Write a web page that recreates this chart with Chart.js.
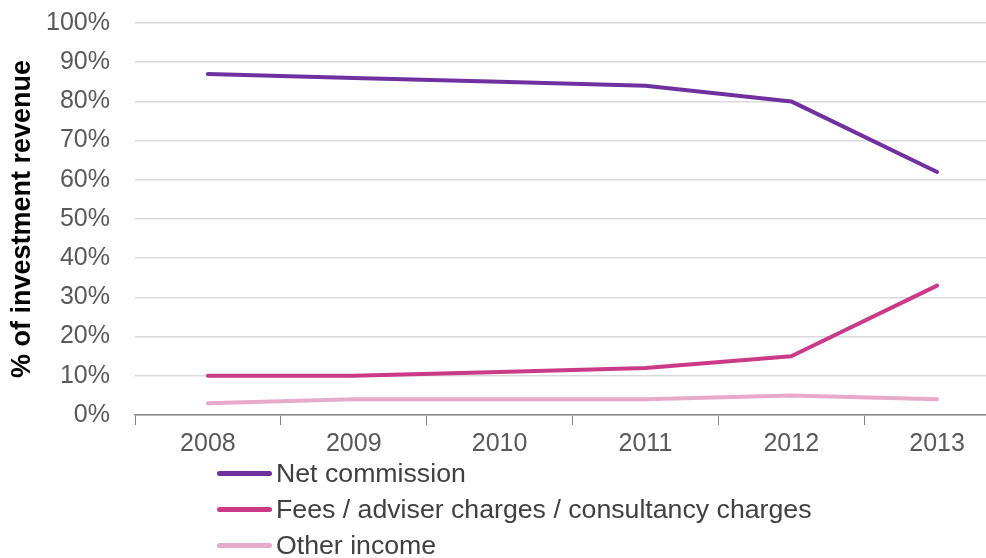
<!DOCTYPE html>
<html>
<head>
<meta charset="utf-8">
<script src="https://cdn.jsdelivr.net/npm/chart.js@4"></script>
<style>
  html, body { margin: 0; padding: 0; background: #fff; overflow: hidden; }
  #wrap { position: relative; width: 986px; height: 558px; overflow: hidden; }
  #box { position: absolute; left: 0; top: 0; width: 1010px; height: 558px; }
  #legend { position: absolute; left: 217px; top: 455px; font-family: "Liberation Sans", Arial, sans-serif; font-size: 26.7px; color: #404040; }
  #legend div { height: 36px; display: flex; align-items: center; }
  #legend span.line { display: inline-block; width: 55px; height: 5px; border-radius: 3px; margin-right: 4px; }
</style>
</head>
<body>
<div id="wrap">
  <div id="box"><canvas id="chart1"></canvas></div>
  <div id="legend"></div>
</div>
<script>
const years = ["2008", "2009", "2010", "2011", "2012", "2013"];
const netCommission = [87, 86, 85, 84, 80, 62];
const fees = [10, 10, 11, 12, 15, 33];
const otherIncome = [3, 4, 4, 4, 5, 4];
const seriesNames = ["Net commission", "Fees / adviser charges / consultancy charges", "Other income"];
const colors = ["#7030A0", "#CB3A86", "#E8AACB"];

const canvas = document.getElementById("chart1");
const font = "'Liberation Sans', Arial, sans-serif";

const myChart = new Chart(canvas, {
  type: "line",
  data: {
    labels: years,
    datasets: [netCommission, fees, otherIncome].map((d, i) => ({
      label: seriesNames[i],
      data: d,
      borderColor: colors[i],
      backgroundColor: colors[i],
      borderWidth: 4,
      pointRadius: 0,
      tension: 0,
      borderJoinStyle: "round",
      borderCapStyle: "round",
    })),
  },
  options: {
    responsive: true,
    maintainAspectRatio: false,
    animation: false,
    layout: { padding: { top: 23, left: 0, right: 0, bottom: 0 } },
    plugins: {
      legend: { display: false },
      tooltip: { enabled: false },
    },
    scales: {
      x: {
        offset: true,
        grid: {
          offset: true,
          drawOnChartArea: false,
          drawTicks: true,
          tickLength: 10,
          color: "#868686",
        },
        border: { color: "#868686", width: 1.5 },
        ticks: { color: "#595959", font: { family: font, size: 25 }, padding: 4 },
        afterFit: (s) => { s.height = 143; },
      },
      y: {
        min: 0,
        max: 100,
        grid: { color: "#D9D9D9", lineWidth: 1.5, drawTicks: false },
        border: { display: false },
        ticks: {
          stepSize: 10,
          color: "#595959",
          font: { family: font, size: 25 },
          padding: 25,
          callback: (v) => v + "%",
        },
        title: {
          display: true,
          text: "% of investment revenue",
          color: "#000",
          font: { family: font, size: 27, weight: "bold" },
          padding: { top: 6, bottom: 0 },
        },
        afterFit: (s) => {
          s.width = 135;
          // let the 100% label hang over the top like the original
          s.paddingTop = 0;
          s.paddingBottom = 0;
        },
      },
    },
  },
});

// legend below the plot, one row per series
const legend = document.getElementById("legend");
myChart.data.datasets.forEach((ds) => {
  const row = document.createElement("div");
  const line = document.createElement("span");
  line.className = "line";
  line.style.background = ds.borderColor;
  row.append(line, document.createTextNode(ds.label));
  legend.appendChild(row);
});
</script>
</body>
</html>
